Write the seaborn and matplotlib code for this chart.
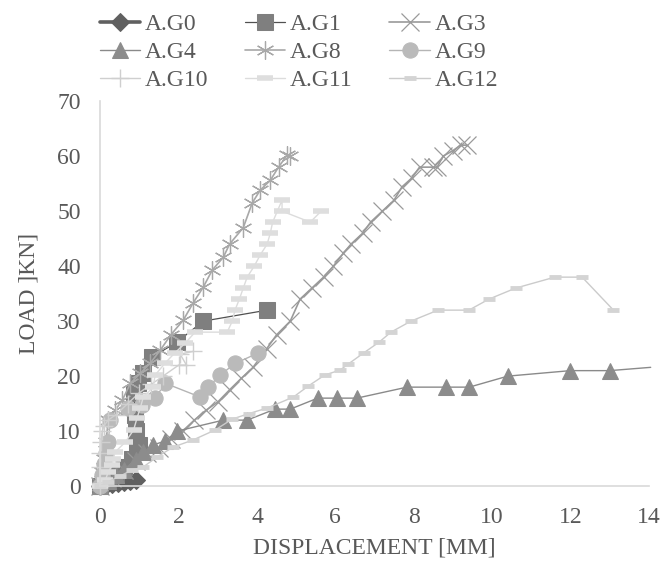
import matplotlib
matplotlib.use("Agg")
import matplotlib.pyplot as plt
import seaborn as sns

# ---- data ----
g0_x = [0, 0.15, 0.3, 0.45, 0.6, 0.75, 0.9]
g0_y = [0, 0.2, 0.4, 0.6, 0.8, 1.0, 1.2]

g1_x = [0, 0.2, 0.4, 0.6, 0.8, 0.95, 1.0, 0.9, 0.88, 0.87, 0.97, 1.1, 1.33, 1.96, 2.63, 4.26]
g1_y = [0, 1, 2, 3.5, 5, 6.5, 7.5, 10, 13, 17, 18.7, 20.5, 23.5, 26.2, 30, 32]

g3_x = [0, 0.3, 0.6, 0.9, 1.2, 1.5, 1.8, 2.1, 2.4, 2.7, 3.0, 3.3, 3.6, 3.9, 4.25, 4.5,
        4.85, 5.1, 5.4, 5.7, 5.95, 6.2, 6.4, 6.7, 6.9, 7.2, 7.5, 7.7, 7.95, 8.15, 8.5,
        8.6, 8.75, 9.0, 9.2, 9.35]
g3_y = [0, 1.5, 3, 4.5, 6, 7, 8.5, 10, 12, 13.8, 15.3, 17.5, 19.6, 21.6, 25, 27.5,
        30, 34, 36, 38, 40, 42.3, 44, 46, 48, 50, 52, 54.4, 56, 58, 58,
        58, 60, 61, 62, 62]

g4_x = [0, 0.2, 0.4, 0.6, 0.9, 1.1, 1.35, 1.66, 1.96, 3.14, 3.75, 4.46, 4.85, 5.55,
        6.04, 6.55, 7.83, 8.83, 9.42, 10.4, 12.0, 13.0, 14.05]
g4_y = [0, 1, 2, 3, 4.7, 6.2, 7.5, 8.2, 10, 12, 12, 14, 14, 16,
        16, 16, 18, 18, 18, 20, 21, 21, 21.6]

g8_x = [0, 0.05, 0.1, 0.15, 0.2, 0.38, 0.56, 0.77, 1.02, 1.28, 1.53, 1.8, 2.12, 2.37,
        2.63, 2.86, 3.14, 3.3, 3.65, 3.88, 4.08, 4.34, 4.55, 4.77, 4.85]
g8_y = [0, 2.5, 5, 8, 12, 13.8, 15.6, 18.7, 20.5, 22.4, 24.7, 27.5, 30.2, 33.3,
        36.2, 39.3, 41.6, 44, 47, 51.5, 53.8, 55.6, 58, 60.2, 60]

g9_x = [0, 0.05, 0.1, 0.15, 0.2, 0.26, 0.72, 1.07, 1.4, 1.66, 2.55, 2.76, 3.06, 3.44, 4.03]
g9_y = [0, 2, 4, 6, 8, 12, 14.2, 14.7, 16, 18.7, 16.2, 18, 20.2, 22.3, 24.2]

g10_x = [0, 0.0, 0.0, 0.02, 0.05, 0.1, 0.2, 0.4, 0.7, 1.0, 1.3, 1.6, 2.0, 2.2, 2.04, 2.37]
g10_y = [0, 3.5, 6, 8, 10, 11, 12, 13, 15, 17, 18.5, 20, 22, 22, 24, 24.5]

g11_x = [0, 0.13, 0.2, 0.3, 0.33, 0.38, 0.64, 0.85, 0.94, 1.02, 1.1, 1.35, 1.4, 1.66,
         1.9, 2.17, 2.42, 3.24, 3.37, 3.44, 3.55, 3.65, 3.75, 3.93, 4.08, 4.26, 4.34,
         4.4, 4.64, 4.64, 5.36, 5.64]
g11_y = [0, 1.1, 2.5, 3.8, 5, 6.2, 8, 10.2, 12.4, 14.2, 16.2, 18, 20.2, 22.4,
         24.2, 26, 28, 28, 30, 32, 34, 36, 38, 40, 42, 44, 46,
         48, 52, 50, 48, 50]

g12_x = [0, 0.2, 0.5, 0.8, 1.1, 1.45, 1.86, 2.37, 2.93, 3.37, 3.8, 4.26, 4.93, 5.31,
         5.73, 6.12, 6.33, 6.72, 7.12, 7.42, 7.93, 8.62, 9.41, 9.92, 10.6, 11.6, 12.3, 13.1]
g12_y = [0, 0.8, 1.8, 2.9, 3.5, 5.3, 7.1, 8.4, 10.2, 12.2, 13.2, 14.2, 16.2, 18.2,
         20.2, 21.1, 22.2, 24.2, 26.2, 28, 30, 32, 32, 34, 36, 38, 38, 32]

labels = ["A.G0", "A.G1", "A.G3", "A.G4", "A.G8", "A.G9", "A.G10", "A.G11", "A.G12"]
xticks = [0, 2, 4, 6, 8, 10, 12, 14]
yticks = [0, 10, 20, 30, 40, 50, 60, 70]

sns.set_theme(style="white")
plt.rcParams["font.family"] = ["Liberation Serif", "DejaVu Serif"]

fig = plt.figure(figsize=(6.64, 5.62), dpi=100)
ax = fig.add_axes([0.151, 0.135, 0.826, 0.685])

txt = "#595959"
FS = 17

series = [
    (g0_x, g0_y, dict(color="#606060", lw=2.6, marker="D", ms=9, mec="#606060", mfc="#606060")),
    (g1_x, g1_y, dict(color="#505050", lw=0.9, marker="s", ms=11, mec="#7f7f7f", mfc="#7f7f7f")),
    (g3_x, g3_y, dict(color="#9a9a9a", lw=1.2, marker="x", ms=13, mew=0.9, mec="#9a9a9a")),
    (g4_x, g4_y, dict(color="#8a8a8a", lw=1.0, marker="^", ms=12, mec="#8c8c8c", mfc="#8c8c8c",
                      markevery=list(range(len(g4_x) - 1)))),
    (g8_x, g8_y, dict(color="#a8a8a8", lw=1.2, marker=(6, 2, 0), ms=13, mew=0.9, mec="#a8a8a8")),
    (g9_x, g9_y, dict(color="#b5b5b5", lw=1.0, marker="o", ms=11, mec="#bababa", mfc="#bababa")),
    (g10_x, g10_y, dict(color="#cfcfcf", lw=1.0, marker="+", ms=13, mew=1.0, mec="#cfcfcf")),
    (g11_x, g11_y, dict(color="#dcdcdc", lw=1.0, marker="_", ms=12, mew=4, mec="#dedede")),
    (g12_x, g12_y, dict(color="#cbcbcb", lw=1.0, marker="_", ms=8, mew=3.5, mec="#d4d4d4")),
]

for (xs, ys, kw), lab in zip(series, labels):
    sns.lineplot(x=xs, y=ys, ax=ax, sort=False, estimator=None, label=lab,
                 clip_on=False, **kw)

ax.set_xlim(0, 14)
ax.set_ylim(0, 70)
ax.set_xticks(xticks)
ax.set_yticks(yticks)
ax.tick_params(axis="both", length=0, labelsize=FS, labelcolor=txt)
ax.tick_params(axis="x", pad=15)
ax.tick_params(axis="y", pad=14)
for s in ["top", "right"]:
    ax.spines[s].set_visible(False)
for s in ["left", "bottom"]:
    ax.spines[s].set_color("#d9d9d9")
    ax.spines[s].set_linewidth(1.2)
ax.grid(False)

ax.set_xlabel("DISPLACEMENT [MM]", fontsize=FS, color=txt, labelpad=7)
ax.set_ylabel("LOAD ]KN]", fontsize=FS, color=txt, labelpad=13)

# legend filled row by row (3 per row)
handles, labs = ax.get_legend_handles_labels()
order = [0, 3, 6, 1, 4, 7, 2, 5, 8]
ax.get_legend().remove()
leg = fig.legend([handles[i] for i in order], [labs[i] for i in order],
                 ncol=3, loc="upper left", bbox_to_anchor=(0.151, 0.976), frameon=False,
                 fontsize=FS, handlelength=1.7, handletextpad=0.2, columnspacing=1.55,
                 labelspacing=0.28, borderpad=0, borderaxespad=0)
for t in leg.get_texts():
    t.set_color(txt)

fig.savefig("out.png", dpi=100)
